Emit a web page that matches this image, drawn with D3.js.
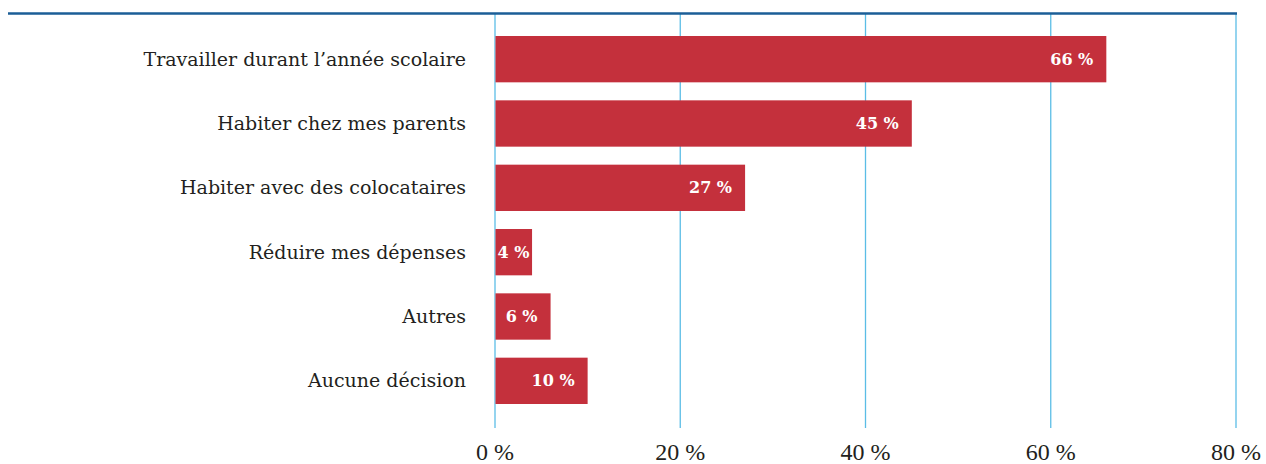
<!DOCTYPE html>
<html>
<head>
<meta charset="utf-8">
<script src="https://cdn.jsdelivr.net/npm/d3@7"></script>
<style>
  body { margin: 0; background: #fff; }
  svg text { font-family: "DejaVu Serif", "Liberation Serif", serif; }
  svg text.tick { font-family: "Liberation Serif", serif; }
</style>
</head>
<body>
<svg id="figure"></svg>
<script>
var categories = ["Travailler durant l\u2019ann\u00e9e scolaire", "Habiter chez mes parents",
    "Habiter avec des colocataires", "R\u00e9duire mes d\u00e9penses", "Autres", "Aucune d\u00e9cision"];
var values = [66, 45, 27, 4, 6, 10];
var ticks = [0, 20, 40, 60, 80];

var fullWidth = 1266, fullHeight = 464;

var svg = d3.select("#figure")
    .attr("width", fullWidth)
    .attr("height", fullHeight);

var xRange = d3.scaleLinear().domain([0, 80]).range([495, 1236]);
var yRange = d3.scaleBand().domain(categories).range([27, 413]).paddingInner(0.28).paddingOuter(0.14);

// grid lines
svg.append("g").selectAll("line").data(ticks).enter().append("line")
    .attr("x1", function (d) { return xRange(d); })
    .attr("x2", function (d) { return xRange(d); })
    .attr("y1", 14).attr("y2", 428)
    .attr("stroke", "#5bbde6").attr("stroke-width", 1.3);

// top rule
svg.append("line").attr("x1", 8).attr("x2", 1237).attr("y1", 13.5).attr("y2", 13.5)
    .attr("stroke", "#1b5e97").attr("stroke-width", 2.5);

// bars
svg.append("g").selectAll("rect").data(values).enter().append("rect")
    .attr("x", xRange(0) + 0.5)
    .attr("y", function (d, i) { return yRange(categories[i]); })
    .attr("width", function (d) { return xRange(d) - xRange(0) - 0.5; })
    .attr("height", yRange.bandwidth())
    .attr("fill", "#c4303c");

// value labels
svg.append("g").selectAll("text").data(values).enter().append("text")
    .attr("x", function (d) { return d < 5 ? (xRange(0) + xRange(d)) / 2 : xRange(d) - 13; })
    .attr("y", function (d, i) { return yRange(categories[i]) + yRange.bandwidth() / 2; })
    .attr("dy", "0.35em")
    .attr("text-anchor", function (d) { return d < 5 ? "middle" : "end"; })
    .attr("fill", "#fff").attr("font-weight", "bold").attr("font-size", 16)
    .text(function (d) { return d + " %"; });

// category labels
svg.append("g").selectAll("text").data(categories).enter().append("text")
    .attr("x", xRange(0) - 29)
    .attr("y", function (d) { return yRange(d) + yRange.bandwidth() / 2; })
    .attr("dy", "0.35em")
    .attr("text-anchor", "end")
    .attr("fill", "#231f20").attr("font-size", 19)
    .text(function (d) { return d; });

// x axis labels
svg.append("g").selectAll("text").data(ticks).enter().append("text")
    .attr("class", "tick")
    .attr("x", function (d) { return xRange(d); })
    .attr("y", 460)
    .attr("text-anchor", "middle")
    .attr("fill", "#231f20").attr("font-size", 24)
    .text(function (d) { return d + " %"; });
</script>
</body>
</html>
